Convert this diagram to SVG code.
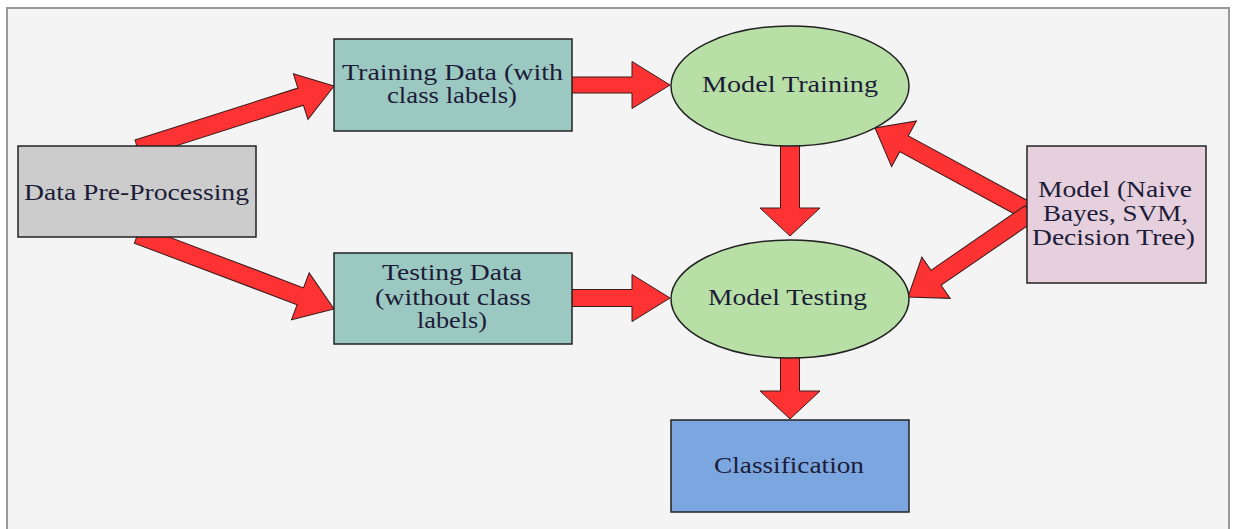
<svg xmlns="http://www.w3.org/2000/svg" width="1235" height="529" viewBox="0 0 1235 529">
<style>
.box{stroke:#222;stroke-width:1.5}
.arr{fill:#fd3333;stroke:#3a1a1a;stroke-width:1}
text{font-family:"Liberation Serif","Times New Roman",serif;font-size:22.5px;fill:#1c1c38;text-anchor:start}
</style>
<rect x="0" y="0" width="1235" height="529" fill="#ffffff"/>
<rect x="7" y="8" width="1222" height="530" fill="#f4f4f4" stroke="#999" stroke-width="2"/>
<g id="connectors">
  <!-- Data Pre-Processing -> Training Data -->
  <polygon class="arr" transform="translate(334,86) rotate(-17.7)" points="-206,-9 -35,-9 -35,-24 0,0 -35,24 -35,9 -206,9"/>
  <!-- Data Pre-Processing -> Testing Data -->
  <polygon class="arr" transform="translate(334,309) rotate(20.7)" points="-210,-9 -36,-9 -36,-25 0,0 -36,25 -36,9 -210,9"/>
  <!-- Training Data -> Model Training -->
  <polygon class="arr" transform="translate(670,85) rotate(0)" points="-100,-8 -38,-8 -38,-23.5 0,0 -38,23.5 -38,8 -100,8"/>
  <!-- Testing Data -> Model Testing -->
  <polygon class="arr" transform="translate(670,298) rotate(0)" points="-100,-8.5 -38,-8.5 -38,-23.5 0,0 -38,23.5 -38,8.5 -100,8.5"/>
  <!-- Model Training -> Model Testing -->
  <polygon class="arr" transform="translate(790,236) rotate(90)" points="-92,-9.5 -28,-9.5 -28,-30 0,0 -28,30 -28,9.5 -92,9.5"/>
  <!-- Model Testing -> Classification -->
  <polygon class="arr" transform="translate(790,419) rotate(90)" points="-64,-9.5 -28,-9.5 -28,-30 0,0 -28,30 -28,9.5 -64,9.5"/>
  <!-- Model -> Model Training -->
  <polygon class="arr" transform="translate(875,128) rotate(208.5)" points="-176,-9 -33,-9 -33,-26 0,0 -33,26 -33,9 -176,9"/>
  <!-- Model -> Model Testing -->
  <polygon class="arr" transform="translate(908,297) rotate(145.5)" points="-148,-9 -34,-9 -34,-25 0,0 -34,25 -34,9 -148,9"/>
</g>
<g id="node-preprocessing">
  <rect class="box" x="18" y="146" width="238" height="91" fill="#cccccc"/>
  <text x="24" y="200" textLength="225" lengthAdjust="spacingAndGlyphs">Data Pre-Processing</text>
</g>
<g id="node-training-data">
  <rect class="box" x="334" y="39" width="238" height="92" fill="#9cc8c2"/>
  <text x="342" y="80" textLength="221" lengthAdjust="spacingAndGlyphs">Training Data (with</text>
  <text x="387" y="103" textLength="130" lengthAdjust="spacingAndGlyphs">class labels)</text>
</g>
<g id="node-testing-data">
  <rect class="box" x="334" y="253" width="238" height="91" fill="#9cc8c2"/>
  <text x="382" y="280" textLength="140" lengthAdjust="spacingAndGlyphs">Testing Data</text>
  <text x="375" y="305" textLength="156" lengthAdjust="spacingAndGlyphs">(without class</text>
  <text x="417" y="328" textLength="70" lengthAdjust="spacingAndGlyphs">labels)</text>
</g>
<g id="node-model-training">
  <ellipse class="box" cx="790" cy="86" rx="119" ry="60" fill="#b8e0a6"/>
  <text x="702" y="92" textLength="176" lengthAdjust="spacingAndGlyphs">Model Training</text>
</g>
<g id="node-model-testing">
  <ellipse class="box" cx="790" cy="299" rx="119" ry="59" fill="#b8e0a6"/>
  <text x="708" y="305" textLength="159" lengthAdjust="spacingAndGlyphs">Model Testing</text>
</g>
<g id="node-classification">
  <rect class="box" x="671" y="420" width="238" height="92" fill="#7ca6e0"/>
  <text x="714" y="473" textLength="150" lengthAdjust="spacingAndGlyphs">Classification</text>
</g>
<g id="node-model">
  <rect class="box" x="1027" y="146" width="179" height="137" fill="#e6d0de"/>
  <text x="1038" y="197" textLength="154" lengthAdjust="spacingAndGlyphs">Model (Naive</text>
  <text x="1043" y="221" textLength="145" lengthAdjust="spacingAndGlyphs">Bayes, SVM,</text>
  <text x="1032" y="245" textLength="163" lengthAdjust="spacingAndGlyphs">Decision Tree)</text>
</g>
</svg>
